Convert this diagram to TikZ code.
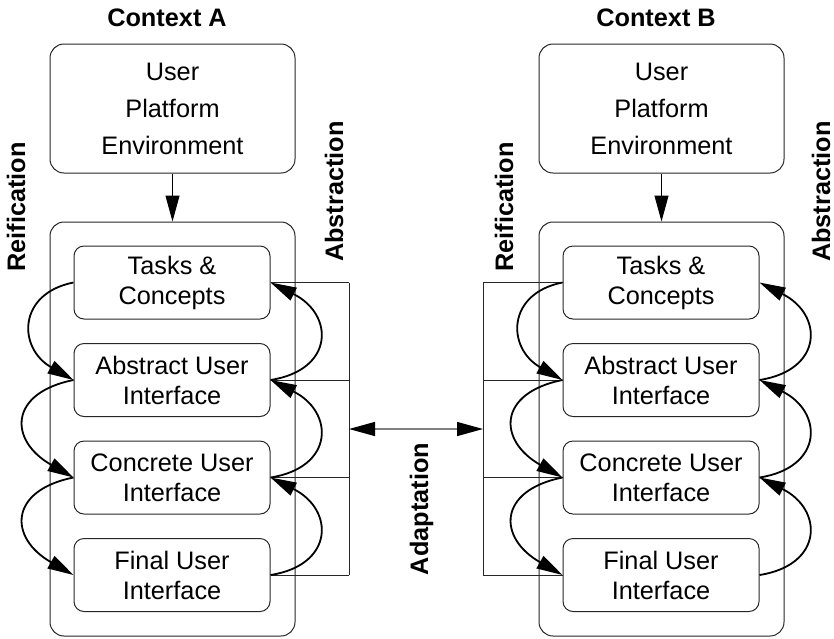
\documentclass[tikz,border=0pt]{standalone}
\usepackage{fontspec}
\setmainfont{Liberation Sans}
\usetikzlibrary{arrows.meta}

\begin{document}
\begin{tikzpicture}[x=1pt,y=-1pt,
  layerbox/.style={draw=black!85, line width=1pt, rounded corners=10pt,
    minimum width=196pt, minimum height=73pt, inner sep=0pt, align=center,
    font=\fontsize{25.3}{30}\selectfont},
  envbox/.style={draw=black!85, line width=1pt, rounded corners=14pt,
    minimum width=245pt, minimum height=129pt, inner sep=0pt, align=center,
    font=\fontsize{25.3}{37}\selectfont},
  outerbox/.style={draw=black!85, line width=1pt, rounded corners=14pt,
    minimum width=245pt, minimum height=414pt, inner sep=0pt},
  ctxtitle/.style={font=\fontsize{25.3}{30}\selectfont\bfseries, inner sep=0pt, anchor=base},
  vlabel/.style={font=\fontsize{25.3}{30}\selectfont\bfseries, rotate=90,
    anchor=base, inner sep=0pt},
  headtip/.style={-{Triangle[length=26pt,width=14pt]}},
  arcline/.style={line width=1.8pt, headtip},
  bracket/.style={line width=0.9pt, black!85},
  adaptline/.style={line width=1.4pt, gray,
    {Triangle[length=26pt,width=14pt,color=black]}-{Triangle[length=26pt,width=14pt,color=black]}},
]
\useasboundingbox (0,0) rectangle (834,638);

\foreach \c/\dx/\bx/\side/\rx/\ax in {A/0/349/east/25/343, B/489/-6/west/24/341} {
  \begin{scope}[xshift=\dx pt]
    % context and the layered models
    \node[ctxtitle] (title\c) at (167,26) {Context \c};
    \node[envbox] (env\c) at (172.5,108.5) {User\\Platform\\Environment};
    \node[outerbox] (frame\c) at (172.5,429) {};
    \node[layerbox] (tc\c)  at (172,282.5) {Tasks \&\\Concepts};
    \node[layerbox] (aui\c) at (172,380)   {Abstract User\\Interface};
    \node[layerbox] (cui\c) at (172,477.5) {Concrete User\\Interface};
    \node[layerbox] (fui\c) at (172,575)   {Final User\\Interface};

    \draw[headtip, line width=1pt] (env\c.south) -- (frame\c.north);

    % bracket joining the layers on the adaptation side
    \coordinate (bt\c) at (\bx,282.5);
    \coordinate (bb\c) at (\bx,575);
    \draw[bracket] (bt\c) -- (bb\c);
    \foreach \n in {tc,aui,cui,fui}
      \draw[bracket] (\n\c.\side) -- (\n\c.\side -| bt\c);

    % reification arcs (downwards, on the left)
    \draw[arcline] (tc\c.west)  .. controls +(-56,11) and +(-56,-32) .. (aui\c.west);
    \draw[arcline] (aui\c.west) .. controls +(-65,13) and +(-65,-37) .. (cui\c.west);
    \draw[arcline] (cui\c.west) .. controls +(-65,13) and +(-65,-37) .. (fui\c.west);

    % abstraction arcs (upwards, on the right)
    \draw[arcline] (aui\c.east) .. controls +(64,-10) and +(64,32) .. (tc\c.east);
    \draw[arcline] (cui\c.east) .. controls +(64,-10) and +(64,32) .. (aui\c.east);
    \draw[arcline] (fui\c.east) .. controls +(64,-10) and +(64,32) .. (cui\c.east);

    % side labels
    \node[vlabel] (reif\c) at (\rx,207) {Reification};
    \node[vlabel] (abst\c) at (\ax,191.5) {Abstraction};
  \end{scope}
}

% adaptation between the two contexts
\coordinate (adA) at (349,429);
\coordinate (adB) at (483,429);
\draw[adaptline] (adA) -- (adB);
\node[vlabel] (adapt) at (428,509) {Adaptation};
\end{tikzpicture}
\end{document}
